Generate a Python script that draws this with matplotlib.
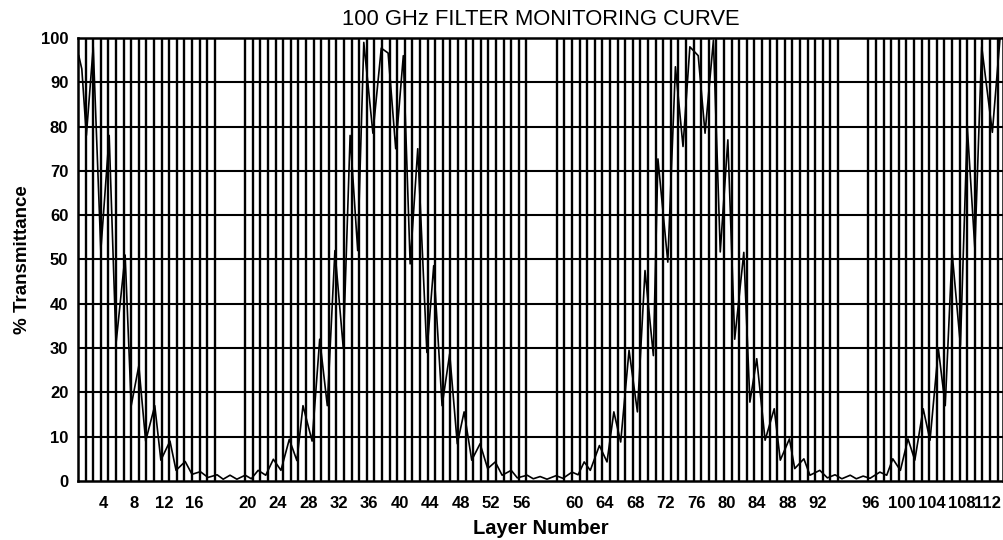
import numpy as np
import matplotlib
matplotlib.use("Agg")
import matplotlib.pyplot as plt
from matplotlib.transforms import ScaledTranslation

# monitoring signal turning points
# position along the run in quarter-wave units, % transmittance
qw_pos = [0.1, 0.5, 1.1, 2.0, 3.0, 4.1, 5.0, 6.2, 7.0, 8.0, 8.9, 10.1, 10.9, 12.1, 12.9,
          14.1, 15.0, 16.1, 17.1, 18.3, 19.1, 20.0, 20.9, 22.0, 22.8, 23.7, 24.7, 25.7,
          26.7, 27.8, 28.8, 29.6, 30.8, 31.8, 32.8, 33.8, 34.9, 35.8, 36.8, 37.6, 38.8,
          39.9, 40.8, 41.8, 42.8,
          43.7, 44.7, 45.9, 46.8, 47.9, 48.9, 49.9, 50.8, 51.8, 52.9, 53.9, 54.9, 55.8,
          57.0, 57.8, 59.1, 59.9, 60.8, 61.7, 62.9, 63.8, 65.0, 65.8, 66.6, 67.4, 68.6,
          69.6, 70.5, 71.4, 72.5, 73.6, 74.6, 75.7, 76.3, 77.6, 78.6, 79.6, 80.5, 81.6,
          82.5, 83.6,
          84.5, 85.5, 86.4, 87.6, 88.4, 89.3, 90.4, 91.6, 92.4, 93.6, 94.3, 95.5, 96.3,
          97.6, 98.6, 99.6, 100.5, 101.6, 102.4, 103.3, 104.2, 105.5, 106.4, 107.2, 108.2,
          109.2, 110.1, 111.2, 112.1, 113.2, 114.1, 115.0, 116.1, 117.0, 118.0, 118.9,
          120.3, 121.3]
transmittance = [96, 93, 78, 98, 52, 78, 31, 51, 17, 26, 9, 17, 4.7, 9, 2.4,
                 4.4, 1.5, 2.1, 0.8, 1.4, 0.4, 1.3, 0.4, 1.3, 0.5, 2.4, 1.3, 4.9,
                 2.4, 9.4, 4.6, 17, 9, 32, 17, 52, 30, 78, 52, 99, 78.5,
                 97.7, 96.6, 75, 96,
                 49, 75, 29, 48.6, 17, 28.7, 8.4, 15.6, 4.7, 8.4, 2.8, 4.3, 1.3,
                 2.4, 0.7, 1.3, 0.5, 1.0, 0.4, 1.2, 0.6, 2.0, 1.4, 4.3, 2.4, 8,
                 4.3, 15.6, 8.8, 29.5, 15.6, 47.5, 28.3, 72.7, 49.4, 93.5, 75.5, 98, 96,
                 78.5, 99.5,
                 51.7, 77, 32, 51.6, 17.8, 27.6, 9.2, 16.3, 4.7, 9.5, 2.8, 5, 1.3,
                 2.4, 0.7, 1.4, 0.5, 1.3, 0.5, 1.1, 0.6, 2.0, 1.3, 5, 2.4,
                 9.5, 4.7, 16.3, 9.2, 29.8, 17, 51.6, 30.6, 80, 52.4, 98,
                 78.7, 99.8]

# layer stack: quarter-wave layers, spacers are four quarter-waves thick
n_layers = 113
cavity_layers = [20, 58, 96]
cavity_qw = 4
tick_layers = list(range(4, 113, 4))
y_ticks = list(range(0, 101, 10))

layer_qw = [cavity_qw if k in cavity_layers else 1 for k in range(1, n_layers + 1)]
boundaries = -1 + np.cumsum(layer_qw)  # end of layer 1 sits on the left edge
x_max = 121.7

font = ["Liberation Sans", "DejaVu Sans"]

fig = plt.figure(figsize=(10.04, 5.40), dpi=100)
ax = fig.add_axes([0.0777, 0.1093, 0.9213, 0.8204])

# layer boundaries and % grid
for b in boundaries:
    if 0 < b < x_max:
        ax.axvline(b, color="black", lw=1.7, zorder=1)
for v in y_ticks[1:-1]:
    ax.axhline(v, color="black", lw=1.5, zorder=1)

ax.plot(qw_pos, transmittance, color="black", lw=1.2, zorder=2)

ax.set_xlim(0, x_max)
ax.set_ylim(0, 100)

tick_pos = [boundaries[k - 1] for k in tick_layers]
ax.set_xticks(tick_pos)
ax.set_xticklabels([str(k) for k in tick_layers])
ax.set_yticks(y_ticks)
ax.tick_params(length=0, labelsize=12)
ax.tick_params(axis="x", pad=11)
ax.tick_params(axis="y", pad=7)
for lab in ax.get_xticklabels() + ax.get_yticklabels():
    lab.set_fontweight("bold")
    lab.set_family(font)

# layer numbers sit a little right of their boundary line in the original,
# the last one is pulled in so it stays inside the frame
xlabs = ax.get_xticklabels()
for lab in xlabs[:-1]:
    lab.set_transform(lab.get_transform() + ScaledTranslation(0.025, 0, fig.dpi_scale_trans))
xlabs[-1].set_transform(xlabs[-1].get_transform() + ScaledTranslation(-0.03, 0, fig.dpi_scale_trans))

for s in ax.spines.values():
    s.set_color("black")
    s.set_linewidth(1.8)

ax.set_xlabel("Layer Number", fontsize=14.5, fontweight="bold", family=font)
ax.xaxis.set_label_coords(0.5, -0.108)
ax.xaxis.label.set_va("center")
ax.set_ylabel("% Transmittance", fontsize=13.5, fontweight="bold", family=font)
ax.yaxis.set_label_coords(-0.0605, 0.5)
ax.yaxis.label.set_va("center")
ax.set_title("100 GHz FILTER MONITORING CURVE", fontsize=15.8, family=font, pad=9)

fig.savefig("out.png", dpi=100, facecolor="white")
